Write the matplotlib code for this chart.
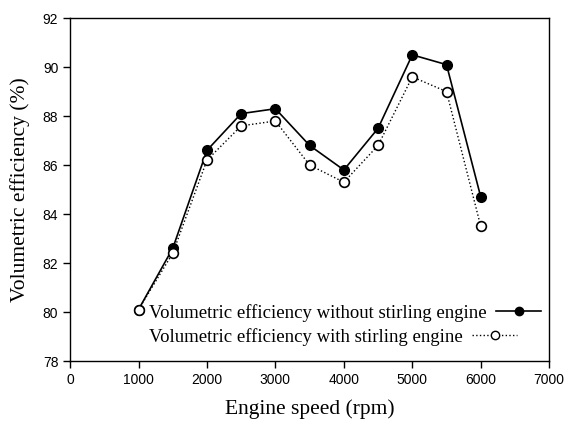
import matplotlib
matplotlib.use('Agg')
import matplotlib.pyplot as plt
from matplotlib.lines import Line2D

# engine speed (rpm)
speed = [1000, 1500, 2000, 2500, 3000, 3500, 4000, 4500, 5000, 5500, 6000]
# volumetric efficiency (%)
ve_without = [80.1, 82.6, 86.6, 88.1, 88.3, 86.8, 85.8, 87.5, 90.5, 90.1, 84.7]
ve_with = [80.1, 82.4, 86.2, 87.6, 87.8, 86.0, 85.3, 86.8, 89.6, 89.0, 83.5]

labels = ['Volumetric efficiency without stirling engine',
          'Volumetric efficiency with stirling engine']

fig = plt.figure(figsize=(5.65, 4.21), dpi=100)
ax = fig.add_axes([0.124, 0.1425, 0.848, 0.8145])

ax.plot(speed, ve_without, color='black', lw=1.2, marker='o', ms=7,
        mfc='black', mec='black')
ax.plot(speed, ve_with, color='black', lw=1.0, ls=':', marker='o', ms=7,
        mfc='white', mec='black', mew=1.2)

ax.set_xlim(0, 7000)
ax.set_ylim(78, 92)
ax.set_xticks(range(0, 7001, 1000))
ax.set_yticks(range(78, 93, 2))
ax.tick_params(direction='out', length=5, width=1, labelsize=10)
for lab in ax.get_xticklabels() + ax.get_yticklabels():
    lab.set_fontfamily('Liberation Sans')
for s in ax.spines.values():
    s.set_linewidth(1.0)

ax.set_xlabel('Engine speed (rpm)', fontfamily='Liberation Serif', fontsize=15.5, labelpad=9)
ax.set_ylabel('Volumetric efficiency (%)', fontfamily='Liberation Serif', fontsize=15.5, labelpad=9)

# legend: text first, handle right after the text, left aligned
h1 = Line2D([], [], color='black', lw=1.2, marker='o', ms=6, mfc='black', mec='black')
h2 = Line2D([], [], color='black', lw=1.0, ls=':', marker='o', ms=6, mfc='white', mec='black')
leg_kw = dict(frameon=False, markerfirst=False, borderpad=0, borderaxespad=0,
              prop={'family': 'Liberation Serif', 'size': 13.5},
              handlelength=2.4, handletextpad=0.5, loc='center left')
leg1 = ax.legend([h1], [labels[0]], bbox_to_anchor=(0.165, 0.14), **leg_kw)
ax.add_artist(leg1)
ax.legend([h2], [labels[1]], bbox_to_anchor=(0.165, 0.07), **leg_kw)

fig.savefig('out.png', dpi=100)
